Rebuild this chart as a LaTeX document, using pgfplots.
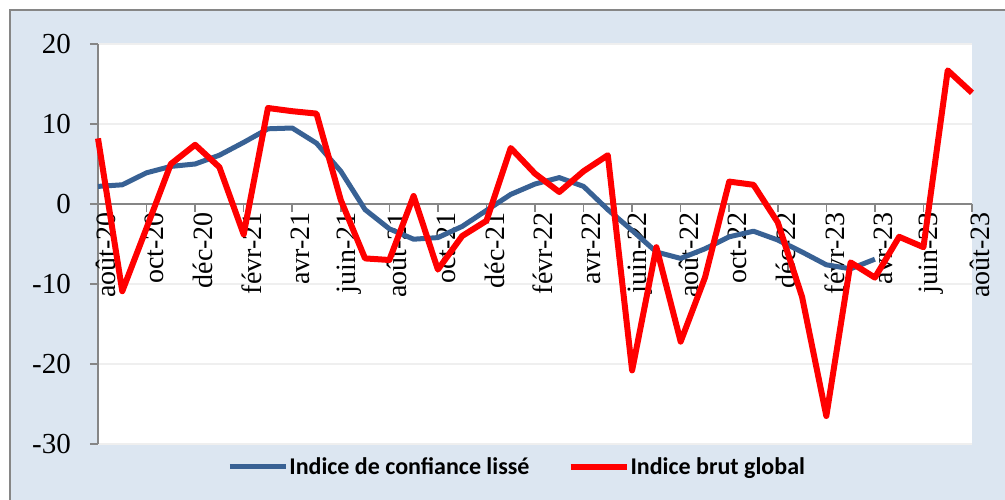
\documentclass[border=0pt]{standalone}
\usepackage{fontspec}
\setmainfont{Liberation Serif}
\newfontfamily\legfont{Carlito}
\usepackage{pgfplots}
\pgfplotsset{compat=1.18}
\definecolor{bgcol}{HTML}{DCE6F1}
\definecolor{lisse}{RGB}{56,97,148}
\definecolor{brut}{RGB}{255,0,0}
\definecolor{axgray}{HTML}{868686}
\definecolor{gridc}{HTML}{EFEFEF}

% smoothed confidence index (ends avr-23)
\pgfplotstableread{
x y
0 2.2
1 2.4
2 3.9
3 4.7
4 5.0
5 6.1
6 7.7
7 9.4
8 9.5
9 7.6
10 4.1
11 -0.7
12 -3.1
13 -4.4
14 -4.2
15 -2.8
16 -0.8
17 1.2
18 2.5
19 3.3
20 2.2
21 -0.7
22 -3.3
23 -6.0
24 -6.8
25 -5.6
26 -4.1
27 -3.4
28 -4.5
29 -6.0
30 -7.6
31 -8.1
32 -6.9
}\lisse

% raw global index
\pgfplotstableread{
x y
0 8.2
1 -10.9
2 -3.0
3 5.0
4 7.4
5 4.6
6 -3.8
7 12.0
8 11.6
9 11.3
10 0.5
11 -6.8
12 -7.0
13 1.0
14 -8.2
15 -4.0
16 -2.1
17 7.0
18 3.8
19 1.5
20 4.1
21 6.1
22 -20.8
23 -5.4
24 -17.2
25 -9.2
26 2.8
27 2.4
28 -2.3
29 -11.6
30 -26.5
31 -7.3
32 -9.2
33 -4.1
34 -5.4
35 16.7
36 13.9
}\brut

\begin{document}
\begin{tikzpicture}[x=1pt,y=1pt]
\fill[bgcol] (10,-20) rectangle (1030,489);
\draw[axgray, line width=1.5pt] (10,-20) -- (10,489) -- (1030,489);
\begin{axis}[
  at={(98pt,55pt)}, anchor=south west,
  scale only axis, width=874pt, height=400pt,
  xmin=0, xmax=36, ymin=-30, ymax=20,
  axis background/.style={fill=white},
  axis x line*=middle, axis y line*=left,
  hide obscured x ticks=false,
  axis line style={axgray, line width=1.5pt, -},
  tick style={axgray, line width=1.5pt},
  tick align=outside, major tick length=8pt,
  xtick={0,2,...,36},
  xticklabels={août-20,oct-20,déc-20,févr-21,avr-21,juin-21,août-21,oct-21,déc-21,févr-22,avr-22,juin-22,août-22,oct-22,déc-22,févr-23,avr-23,juin-23,août-23},
  xticklabel style={rotate=90, anchor=east, font=\fontsize{28}{30}\selectfont, inner sep=0pt, yshift=-8pt},
  ytick={-30,-20,-10,0,10,20},
  yticklabels={-30,-20,-10,0,10,20},
  yticklabel style={font=\fontsize{29}{31}\selectfont, inner sep=0pt, xshift=-19pt},
  ymajorgrids, grid style={gridc, line width=1.5pt},
  clip=false,
  legend columns=2,
  legend style={at={(axis description cs:0.479,-0.0575)}, anchor=center,
    draw=none, fill=none, font=\legfont\bfseries\fontsize{24}{26}\selectfont,
    nodes={inner sep=1pt}, /tikz/every even column/.append style={column sep=37pt}},
  legend image code/.code={\draw[#1] (0pt,0pt) -- (56pt,0pt);},
]
\addplot[lisse, line width=5pt, line join=round] table {\lisse};
\addplot[brut, line width=6pt, line join=round] table {\brut};
\legend{Indice de confiance lissé, Indice brut global}
\end{axis}
\pgfresetboundingbox
\useasboundingbox (0,0) rectangle (1005,499);
\end{tikzpicture}
\end{document}
